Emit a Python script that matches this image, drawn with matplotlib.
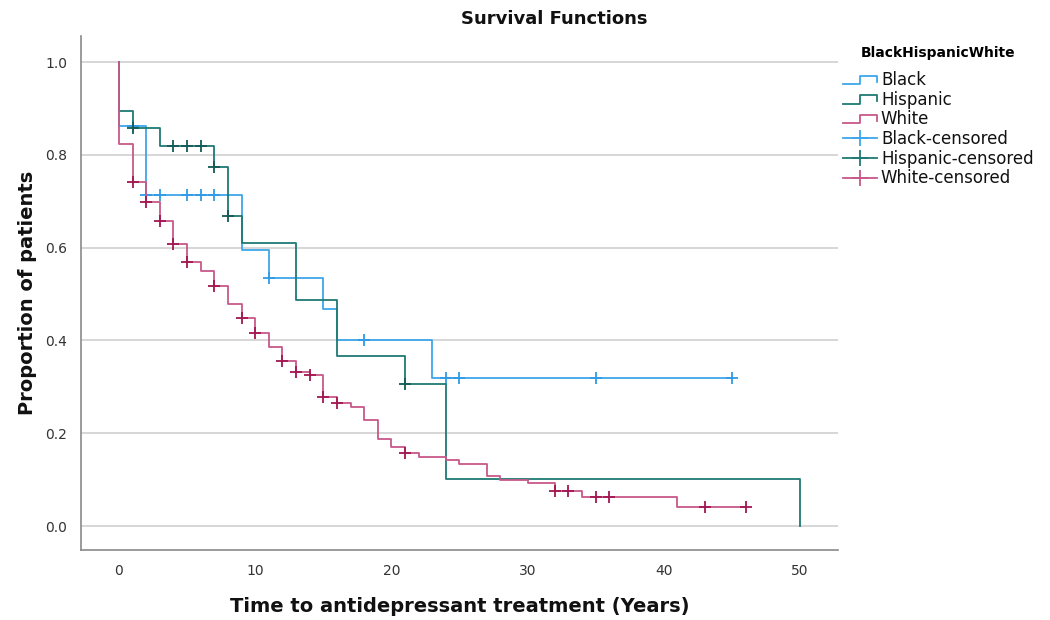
import matplotlib
matplotlib.use("Agg")
import matplotlib.pyplot as plt
import numpy as np
from matplotlib.lines import Line2D
from matplotlib.legend_handler import HandlerBase

# Kaplan-Meier steps (time of drop, survival after drop)
black_t = [0, 2, 9, 11, 15, 16, 23]
black_s = [0.862, 0.713, 0.595, 0.535, 0.468, 0.400, 0.320]
black_end = 45
black_cens = [1, 2, 3, 5, 6, 7, 11, 18, 24, 25, 35, 45]

hisp_t = [0, 1, 3, 7, 8, 9, 13, 16, 21, 24, 50]
hisp_s = [0.894, 0.858, 0.820, 0.773, 0.669, 0.609, 0.487, 0.366, 0.305, 0.101, 0.0]
hisp_end = 50
hisp_cens = [1, 4, 5, 6, 7, 8, 21]

white_t = [0, 1, 2, 3, 4, 5, 6, 7, 8, 9, 10, 11, 12, 13, 14, 15, 16, 17, 18, 19,
           20, 21, 22, 24, 25, 27, 28, 30, 32, 34, 41]
white_s = [0.823, 0.742, 0.698, 0.657, 0.608, 0.568, 0.550, 0.517, 0.478, 0.449,
           0.417, 0.386, 0.356, 0.332, 0.326, 0.279, 0.266, 0.257, 0.228, 0.187,
           0.171, 0.157, 0.149, 0.142, 0.133, 0.108, 0.100, 0.092, 0.075, 0.0625, 0.041]
white_end = 46
white_cens = [1, 2, 3, 4, 5, 7, 9, 10, 12, 13, 14, 15, 16, 21, 32, 33, 35, 36, 43, 46]

groups = ["Black", "Hispanic", "White"]
line_cols = {"Black": "#3fa6ec", "Hispanic": "#1f7a73", "White": "#c8588a"}
mark_cols = {"Black": "#2f9be6", "Hispanic": "#145a55", "White": "#a3164f"}
data = {
    "Black": (black_t, black_s, black_end, black_cens),
    "Hispanic": (hisp_t, hisp_s, hisp_end, hisp_cens),
    "White": (white_t, white_s, white_end, white_cens),
}


class StepHandler(HandlerBase):
    def create_artists(self, legend, orig_handle, xdescent, ydescent, width,
                       height, fontsize, trans):
        x = np.array([0.0, 0.5, 0.5, 1.0, 1.0]) * width - xdescent
        y = np.array([0.1, 0.1, 0.8, 0.8, 0.3]) * height - ydescent
        ln = Line2D(x, y, color=orig_handle.get_color(), lw=1.3)
        ln.set_transform(trans)
        return [ln]


fig = plt.figure(figsize=(10.5, 6.2), dpi=100)
ax = fig.add_axes([0.0771, 0.1129, 0.7210, 0.8290])

step_handles = []
cens_handles = []
for g in groups:
    t, s, end, cens = data[g]
    xs = [0] + list(t) + [end]
    ys = [1.0] + list(s) + [s[-1]]
    ax.plot(xs, ys, drawstyle="steps-post", color=line_cols[g], lw=1.3)
    tt = np.array(t)
    idx = np.searchsorted(tt, cens, side="right") - 1
    cv = np.array(s)[idx]
    ax.plot(cens, cv, linestyle="none", marker="+", ms=8, mew=1.3,
            color=mark_cols[g])
    step_handles.append(Line2D([], [], color=line_cols[g]))
    cens_handles.append(Line2D([], [], color=line_cols[g], marker="+", ms=12,
                               mew=1.3, lw=1.3))

ax.set_xlim(-2.79, 52.79)
ax.set_ylim(-0.0517, 1.056)
ax.set_xticks([0, 10, 20, 30, 40, 50])
ax.set_yticks([0.0, 0.2, 0.4, 0.6, 0.8, 1.0])
ax.set_yticklabels(["0.0", "0.2", "0.4", "0.6", "0.8", "1.0"])
ax.tick_params(length=0, labelsize=10, colors="#333333", pad=10)
ax.yaxis.grid(True, color="#d0d0d0", lw=1.2)
ax.set_axisbelow(True)
for side in ["top", "right"]:
    ax.spines[side].set_visible(False)
for side in ["left", "bottom"]:
    ax.spines[side].set_color("#8a8a8a")
    ax.spines[side].set_linewidth(1.2)

ax.set_xlabel("Time to antidepressant treatment (Years)", fontsize=14,
              fontweight="bold", color="#111111", labelpad=14)
ax.set_ylabel("Proportion of patients", fontsize=14, fontweight="bold",
              color="#111111", labelpad=6)
fig.text(0.528, 0.970, "Survival Functions", ha="center", va="center",
         fontsize=13, fontweight="bold", color="#111111")

labels = groups + [g + "-censored" for g in groups]
handler_map = {h: StepHandler() for h in step_handles}
leg = fig.legend(step_handles + cens_handles, labels, handler_map=handler_map,
                 loc="upper left", bbox_to_anchor=(0.789, 0.95), frameon=False,
                 title="BlackHispanicWhite", fontsize=12, handlelength=2.0,
                 handletextpad=0.25, labelspacing=0.1)
leg.get_title().set_fontweight("bold")
leg.get_title().set_fontsize(10)
leg._legend_box.sep = 8
for txt in leg.get_texts():
    txt.set_color("#111111")

fig.savefig("out.png", dpi=100)
